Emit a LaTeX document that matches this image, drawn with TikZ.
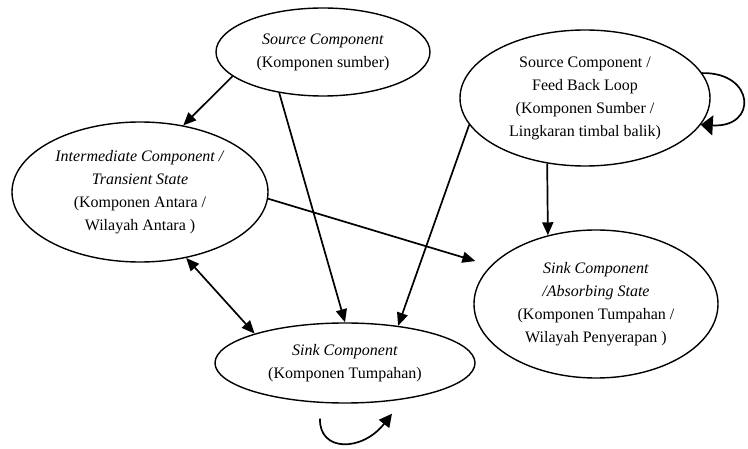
\documentclass[tikz,border=0pt]{standalone}
\usepackage{fontspec}
\setmainfont{Liberation Serif}
\usetikzlibrary{shapes.geometric,arrows.meta}
\begin{document}
\begin{tikzpicture}[x=1pt,y=-1pt,
  >={Triangle[length=13pt,width=11pt]},
  state/.style={draw, ellipse, line width=1.4pt, inner sep=0pt, align=center,
    font=\fontsize{16}{23}\selectfont, text=black},
  link/.style={line width=1.7pt, ->},
]
\useasboundingbox (0,0) rectangle (748,449);

\node[state, minimum width=214pt, minimum height=88pt] (src) at (323,52)
  {\textit{Source Component}\\(Komponen sumber)};
\node[state, minimum width=250pt, minimum height=136pt] (fb) at (585,98)
  {Source Component /\\Feed Back Loop\\(Komponen Sumber /\\Lingkaran timbal balik)};
\node[state, minimum width=256pt, minimum height=140pt] (inter) at (140,192)
  {\textit{Intermediate Component /}\\\textit{Transient State}\\(Komponen Antara /\\Wilayah Antara )};
\node[state, minimum width=244pt, minimum height=148pt] (abs) at (596,304)
  {\textit{Sink Component}\\\textit{/Absorbing State}\\(Komponen Tumpahan /\\Wilayah Penyerapan )};
\node[state, minimum width=260pt, minimum height=80pt] (sink) at (345,363)
  {\textit{Sink Component}\\(Komponen Tumpahan)};

\draw[link] (src.195) -- (inter.57);
\draw[link] (src.223) -- (sink.north);
\draw[link] (fb.193) -- (sink.35);
\draw[link] (fb.240) -- (abs.125);
\draw[link, shorten >=16pt] (inter.-3) -- (abs.160);
\draw[link, <->] (inter.-55) -- (sink.162);

% self loop of the feedback component
\draw[line width=1.7pt, -{Triangle[length=12pt,width=20pt]}]
  (fb.12) .. controls (755,72) and (758,128) .. (fb.-13);

% self loop under the sink component
\coordinate (ls) at ([shift={(-25,15)}]sink.south);
\coordinate (le) at ([shift={(47,10)}]sink.south);
\draw[line width=1.7pt, -{Triangle[length=13pt,width=13pt]}]
  (ls) .. controls (319,452) and (362,452) .. (le);
\end{tikzpicture}
\end{document}
